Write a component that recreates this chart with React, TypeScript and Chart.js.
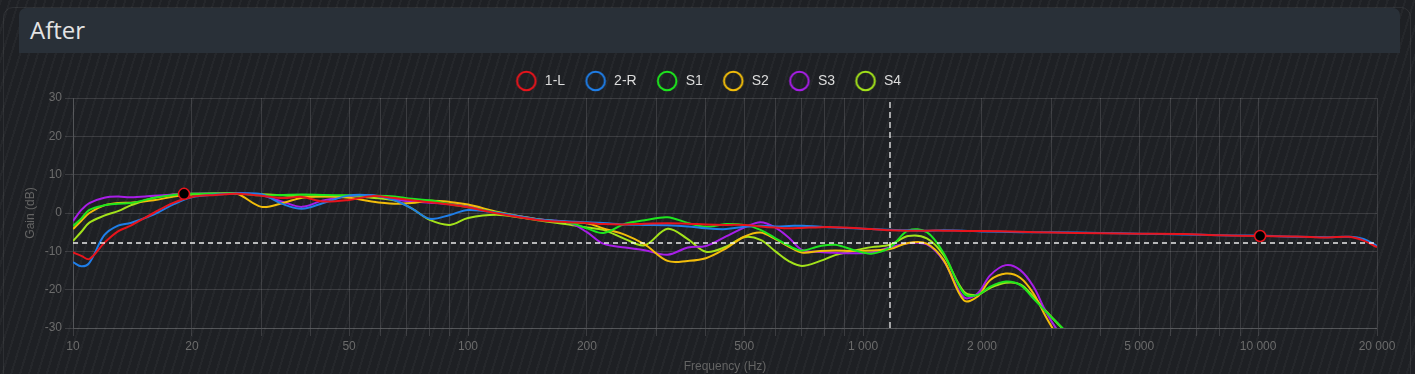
import React, { useEffect, useRef } from 'react';
import { Chart, registerables } from 'chart.js';

Chart.register(...registerables);

// ---------- data ----------
const freqLR = [
  10, 10.5, 11, 12, 13, 14, 16, 18, 20, 23, 26, 30, 34, 38, 43, 50, 57, 65, 72, 80,
  90, 100, 120, 150, 180, 200, 220, 250, 280, 320, 360, 400, 450, 500, 550, 600, 650, 700, 780, 850,
  950, 1050, 1170, 1300, 1450, 1600, 1800, 2000, 2500, 3000, 4000, 5000, 6500, 8000, 10000, 12500,
  15000, 17000, 18500, 20000,
];
const freqS = [
  10, 10.5, 11, 12, 13, 14, 16, 18, 20, 23, 26, 30, 34, 38, 43, 50, 57, 65, 72, 80,
  90, 100, 120, 150, 180, 200, 220, 250, 280, 320, 360, 400, 450, 500, 550, 600, 650, 700, 780, 850,
  950, 1050, 1170, 1300, 1450, 1600, 1800, 1950, 2100, 2300, 2500, 2700, 2900, 3100, 3300,
];

const gain1L = [
  -10.3, -11.2, -12.0, -7.8, -4.8, -3.3, 0.0, 2.7, 4.2, 4.7,
  5.0, 4.5, 3.9, 4.2, 3.0, 3.4, 4.4, 3.9, 3.3, 2.8,
  2.2, 1.5, -0.2, -1.8, -2.4, -2.6, -2.9, -3.0, -2.8, -2.7,
  -2.8, -3.0, -3.1, -3.1, -3.5, -3.8, -4.0, -3.9, -3.7, -3.7,
  -3.9, -4.2, -4.5, -4.6,
  -4.6, -4.6, -4.7, -4.7, -4.9, -5.1, -5.3, -5.4, -5.5, -5.8, -6.0, -6.1, -6.4, -6.2, -7.2, -8.9,
];
const gain2R = [
  -12.8, -13.9, -13.0, -5.8, -3.3, -2.6, -0.4, 2.3, 4.1, 4.8,
  5.1, 4.9, 2.3, 1.1, 2.6, 4.6, 4.6, 3.4, 1.2, -1.5,
  -0.5, 0.8, 0.0, -1.6, -2.2, -2.4, -2.6, -3.0, -3.1, -3.2,
  -3.5, -4.0, -4.2, -3.6, -3.3, -3.5, -3.4, -3.3, -3.6, -3.8,
  -4.0, -4.2, -4.4, -4.5,
  -4.6, -4.5, -4.6, -4.8, -5.0, -5.0, -5.2, -5.4, -5.6, -5.8, -5.9, -6.2, -6.3, -6.2, -6.8, -8.6,
];
const gainS1 = [
  -3.4, -1.4, 0.8, 2.0, 2.4, 2.6, 3.9, 4.7, 5.0, 5.1,
  5.1, 4.6, 4.7, 4.8, 4.7, 4.6, 4.5, 4.3, 3.7, 3.3,
  2.3, 1.5, 0.0, -1.7, -2.5, -4.0, -5.2, -2.8, -1.9, -1.1,
  -2.6, -3.6, -2.9, -3.1, -4.4, -6.6, -8.6, -9.8, -8.6, -8.3,
  -9.7, -10.6, -9.0, -4.6,
  -5.0, -10.5, -21.0, -21.4, -19.2, -17.9, -18.8, -22.3, -25.7, -28.6, -31.5,
];
const gainS2 = [
  -4.2, -2.0, 0.0, 2.0, 2.6, 2.7, 3.3, 4.3, 4.8, 5.0,
  5.0, 1.6, 2.6, 4.0, 4.3, 4.0, 3.0, 2.4, 2.6, 3.2,
  2.9, 2.2, 0.2, -1.6, -2.4, -2.7, -4.0, -5.7, -8.2, -12.5,
  -12.5, -11.8, -9.2, -6.2, -5.1, -6.8, -8.8, -10.3, -9.9, -9.8,
  -9.9, -9.8, -9.4, -7.8,
  -8.0, -12.3, -22.8, -21.8, -17.5, -15.8, -16.9, -21.0, -27.0, -32.0, -36.0,
];
const gainS3 = [
  -2.1, 0.8, 2.6, 4.0, 4.3, 4.1, 4.5, 4.8, 5.0, 5.1,
  5.2, 4.6, 2.9, 1.6, 3.3, 4.4, 4.6, 3.6, 3.0, 2.7,
  2.3, 1.7, 0.0, -1.6, -2.5, -5.0, -8.0, -9.0, -9.7, -10.9,
  -9.0, -8.6, -6.1, -3.8, -2.4, -3.8, -6.5, -9.6, -10.2, -10.4,
  -10.5, -10.3, -9.0, -7.9,
  -8.2, -12.5, -22.0, -21.0, -16.2, -13.6, -14.9, -19.2, -25.7, -30.5, -34.0,
];
const gainS4 = [
  -7.3, -4.9, -2.5, -0.7, 0.5, 2.0, 4.0, 4.8, 5.0, 5.1,
  5.0, 4.9, 4.6, 4.3, 4.4, 4.5, 4.0, 3.3, 1.2, -1.8,
  -3.1, -1.3, -0.5, -1.9, -3.0, -3.8, -4.4, -6.8, -8.4, -4.1,
  -6.8, -10.1, -8.8, -6.3, -7.0, -10.0, -12.6, -13.8, -12.5, -11.0,
  -9.8, -8.9, -8.3, -6.0,
  -6.6, -11.0, -20.5, -21.3, -19.5, -18.2, -18.6, -21.8, -25.5, -28.7, -31.5,
];

const seriesNames = ['1-L', '2-R', 'S1', 'S2', 'S3', 'S4'];
const seriesColors = ['#e8141c', '#1f7ee8', '#1ee61e', '#f2bd0a', '#a81ee8', '#a3e31a'];
const seriesFreqs = [freqLR, freqLR, freqS, freqS, freqS, freqS];
const seriesGains = [gain1L, gain2R, gainS1, gainS2, gainS3, gainS4];

const xTickValues = [10, 20, 50, 100, 200, 500, 1000, 2000, 5000, 10000, 20000];
const xTickLabels = ['10', '20', '50', '100', '200', '500', '1 000', '2 000', '5 000', '10 000', '20 000'];
const yTickValues = [-30, -20, -10, 0, 10, 20, 30];
const yTickLabels = ['-30', '-20', '-10', '0', '10', '20', '30'];

const markerFreq = [19.1, 10120];
const markerGain = [5.0, -6.0];
const cursorFreq = 1170;
const cursorGain = -7.8;

const X_MIN = 10;
const X_MAX = 20000;
const Y_MIN = -30;
const Y_MAX = 30;

// minor grid lines 1..9 x 10^n
const gridFreqs: number[] = [];
for (let d = 10; d <= 10000; d *= 10) {
  for (let m = 1; m <= 9; m++) {
    const v = m * d;
    if (v <= X_MAX) gridFreqs.push(v);
  }
}

function makeCircle(color: string): HTMLCanvasElement {
  const c = document.createElement('canvas');
  c.width = 24;
  c.height = 24;
  const ctx = c.getContext('2d')!;
  ctx.strokeStyle = color;
  ctx.lineWidth = 2;
  ctx.beginPath();
  ctx.arc(12, 12, 9.3, 0, Math.PI * 2);
  ctx.stroke();
  return c;
}

const GRID = 'rgba(255,255,255,0.13)';
const FONT = '"Liberation Sans", Arial, sans-serif';

export default function App() {
  const ref = useRef<HTMLCanvasElement>(null);

  useEffect(() => {
    const canvas = ref.current;
    if (!canvas) return;
    const icons = seriesColors.map(makeCircle);

    const datasets: any[] = seriesNames.map((name, i) => ({
      label: name,
      data: seriesFreqs[i].map((f, k) => ({ x: f, y: seriesGains[i][k] })),
      borderColor: seriesColors[i],
      backgroundColor: 'transparent',
      borderWidth: 2,
      pointRadius: 0,
      tension: 0.35,
      fill: false,
      order: 0,
    }));

    datasets.push({
      label: 'hline',
      data: [
        { x: X_MIN, y: cursorGain },
        { x: X_MAX, y: cursorGain },
      ],
      borderColor: 'rgba(255,255,255,0.9)',
      borderWidth: 1.5,
      borderDash: [5, 4],
      pointRadius: 0,
      tension: 0,
      order: -1,
    });
    datasets.push({
      label: 'vline',
      data: [
        { x: cursorFreq, y: Y_MIN },
        { x: cursorFreq, y: Y_MAX },
      ],
      borderColor: 'rgba(255,255,255,0.8)',
      borderWidth: 1.5,
      borderDash: [6, 4],
      pointRadius: 0,
      tension: 0,
      order: -1,
    });
    datasets.push({
      label: 'markers',
      data: markerFreq.map((f, k) => ({ x: f, y: markerGain[k] })),
      showLine: false,
      pointRadius: 5.5,
      pointBackgroundColor: '#000000',
      pointBorderColor: '#e8141c',
      pointBorderWidth: 1.5,
      order: -2,
    });

    Chart.defaults.font.family = FONT;

    const chart = new Chart(canvas, {
      type: 'line',
      data: { datasets },
      options: {
        animation: false,
        responsive: false,
        maintainAspectRatio: false,
        events: [],
        layout: { padding: { left: 39, right: 38, top: 55, bottom: 0 } },
        plugins: {
          tooltip: { enabled: false },
          legend: {
            display: true,
            position: 'top',
            labels: {
              usePointStyle: true,
              pointStyleWidth: 23,
              boxHeight: 14,
              padding: 19,
              color: '#dcdcdc',
              font: { size: 14, family: FONT },
              generateLabels: (ch: any) => {
                const items = (Chart.defaults.plugins.legend.labels as any).generateLabels(ch);
                return items
                  .filter((it: any) => it.datasetIndex < seriesNames.length)
                  .map((it: any) => ({ ...it, pointStyle: icons[it.datasetIndex], fontColor: '#dcdcdc' }));
              },
            },
          },
        },
        scales: {
          x: {
            type: 'logarithmic',
            min: X_MIN,
            max: X_MAX,
            afterBuildTicks: (scale: any) => {
              scale.ticks = gridFreqs.map((v) => ({ value: v }));
            },
            afterFit: (scale: any) => {
              scale.height = 46;
            },
            grid: { color: GRID, tickColor: GRID, lineWidth: 1, tickLength: 8 },
            border: { color: GRID },
            ticks: {
              autoSkip: false,
              maxRotation: 0,
              minRotation: 0,
              color: '#6b6b6b',
              font: { size: 12, family: FONT },
              callback: (v: any) => {
                const idx = xTickValues.indexOf(Number(v));
                return idx >= 0 ? xTickLabels[idx] : '';
              },
            },
            title: {
              display: true,
              text: 'Frequency (Hz)',
              color: '#646464',
              font: { size: 12, family: FONT },
              padding: { top: 4, bottom: 0 },
            },
          },
          y: {
            type: 'linear',
            min: Y_MIN,
            max: Y_MAX,
            afterBuildTicks: (scale: any) => {
              scale.ticks = yTickValues.map((v) => ({ value: v }));
            },
            afterFit: (scale: any) => {
              scale.width = 34;
            },
            grid: { color: GRID, tickColor: GRID, lineWidth: 1, tickLength: 8 },
            border: { color: GRID },
            ticks: {
              color: '#6b6b6b',
              font: { size: 12, family: FONT },
              callback: (v: any) => {
                const idx = yTickValues.indexOf(Number(v));
                return idx >= 0 ? yTickLabels[idx] : '';
              },
            },
            title: {
              display: true,
              text: 'Gain (dB)',
              color: '#646464',
              font: { size: 12, family: FONT },
              padding: { top: -16, bottom: 0 },
            },
          },
        },
      } as any,
    });
    return () => chart.destroy();
  }, []);

  return (
    <div
      style={{
        position: 'fixed',
        left: 0,
        top: 0,
        width: 1415,
        height: 374,
        overflow: 'hidden',
        backgroundColor: '#1e2024',
        backgroundImage:
          'repeating-linear-gradient(107deg, rgba(255,255,255,0.03) 0px, rgba(255,255,255,0.03) 2px, transparent 2px, transparent 8.5px)',
      }}
    >
      <div
        style={{
          position: 'absolute',
          left: 3,
          top: 7,
          width: 1408,
          height: 420,
          border: '1px solid rgba(255,255,255,0.07)',
          borderRadius: 10,
          boxSizing: 'border-box',
        }}
      />
      <div
        style={{
          position: 'absolute',
          left: 19,
          top: 8,
          width: 1381,
          height: 45,
          background: '#293038',
          borderRadius: '7px 7px 0 0',
        }}
      >
        <span
          style={{
            position: 'absolute',
            left: 11,
            top: -1,
            lineHeight: '45px',
            fontFamily: '"Open Sans", sans-serif',
            fontSize: 24,
            color: '#e4e4e4',
            whiteSpace: 'nowrap',
          }}
        >
          After
        </span>
      </div>
      <canvas
        ref={ref}
        width={1415}
        height={374}
        style={{ position: 'absolute', left: 0, top: 0, width: 1415, height: 374 }}
      />
    </div>
  );
}
